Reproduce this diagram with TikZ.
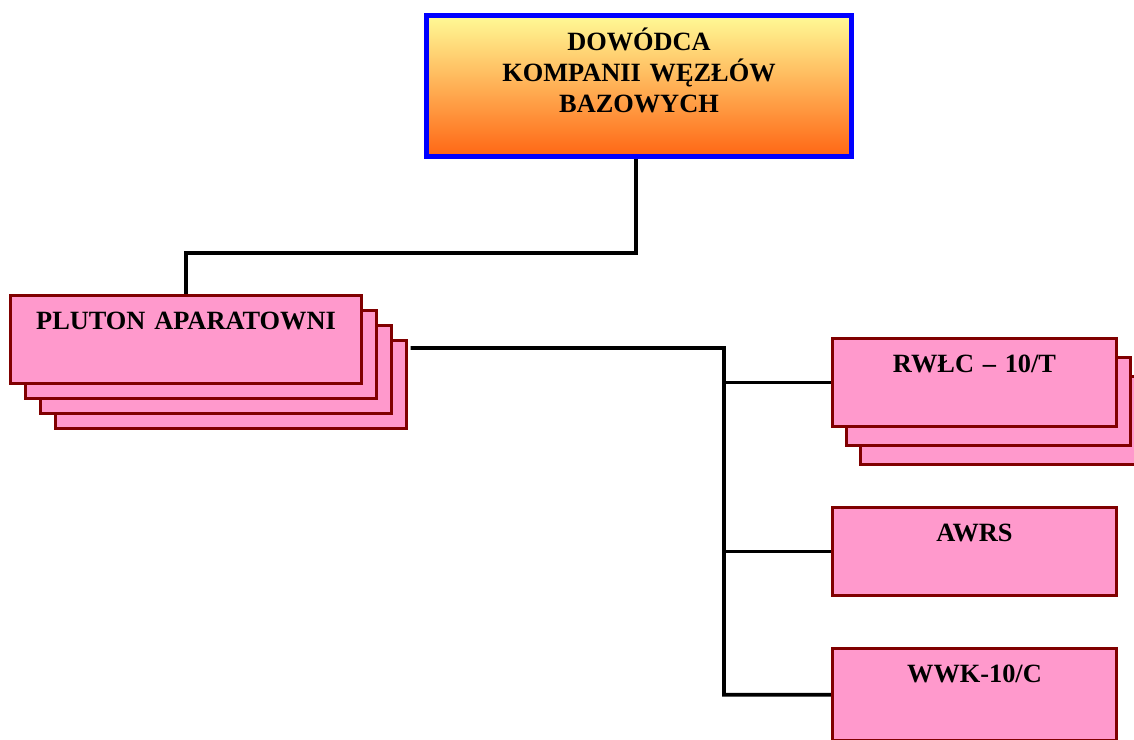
\documentclass[tikz,border=0pt]{standalone}
\usepackage{fontspec}
\setmainfont{Liberation Serif}
\usepackage{tikz}
\usetikzlibrary{shadows}
\definecolor{boxpink}{RGB}{255,153,204}
\definecolor{boxred}{RGB}{128,0,0}
\definecolor{topyellow}{RGB}{255,250,150}
\definecolor{botorange}{RGB}{255,102,20}

\begin{document}
\begin{tikzpicture}[x=0.02cm, y=-0.02cm, node distance=3.38cm]
\tikzstyle{chief} = [rectangle, inner sep=0pt, text width=8.5cm, align=center, text height=19.6pt, text depth=60.4pt, draw=blue, line width=2.8pt, top color=topyellow, bottom color=botorange, font=\bfseries\fontsize{15}{17.6}\selectfont]
\tikzstyle{unit} = [rectangle, inner sep=0pt, text width=5.68cm, align=center, text height=19.5pt, text depth=30.4pt, draw=boxred, line width=1.9pt, fill=boxpink, font=\bfseries\fontsize{15}{17.6}\selectfont]
\tikzstyle{platoon} = [unit, text width=7.02cm]
\tikzstyle{link} = [line width=2.1pt]
\useasboundingbox (0,0) rectangle (1134,740);

\node (dowodca) [chief] at (639,86) {DOWÓDCA\\KOMPANII WĘZŁÓW\\BAZOWYCH};
\node (pluton) [platoon, copy shadow={shadow xshift=0.9cm, shadow yshift=-0.9cm}, copy shadow={shadow xshift=0.6cm, shadow yshift=-0.6cm}, copy shadow={shadow xshift=0.3cm, shadow yshift=-0.3cm}] at (186,339.5) {PLUTON APARATOWNI};
\node (rwlc) [unit, copy shadow={shadow xshift=0.56cm, shadow yshift=-0.76cm}, copy shadow={shadow xshift=0.28cm, shadow yshift=-0.38cm}] at (974.5,382.5) {RWŁC – 10/T};
\node (awrs) [unit, below of=rwlc] {AWRS};
\node (wwk) [unit, text depth=33pt, below of=awrs, yshift=0.514cm] {WWK-10/C};
\coordinate (fork) at (724,348);

\draw [link] ([xshift=-0.06cm]dowodca.south) -- ++(0,-1.89cm) -| (pluton.north);
\draw [link] ([xshift=0.95cm, yshift=-0.17cm]pluton.east) -- (fork) |- (wwk.west);
\draw [link] (fork |- rwlc.west) -- (rwlc.west);
\draw [link] (fork |- awrs.west) -- (awrs.west);
\end{tikzpicture}
\end{document}
